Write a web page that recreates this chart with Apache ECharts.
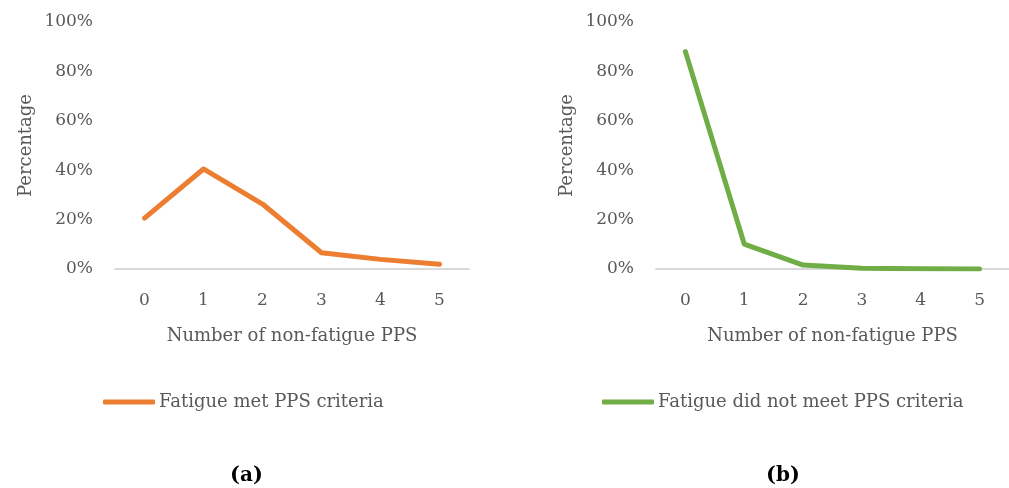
<!DOCTYPE html>
<html>
<head>
<meta charset="utf-8">
<style>
  html, body { margin: 0; padding: 0; background: #ffffff; }
  #chart { width: 1009px; height: 488px; }
</style>
<script src="https://cdn.jsdelivr.net/npm/echarts@6/dist/echarts.min.js"></script>
</head>
<body>
<div id="chart"></div>
<script>
// Number of non-fatigue PPS (x categories)
const categories = ['0', '1', '2', '3', '4', '5'];
// Percentage of participants, fatigue met PPS criteria
const fatigueMet = [20.6, 40.5, 26.3, 6.6, 3.9, 1.9];
// Percentage of participants, fatigue did not meet PPS criteria
const fatigueNotMet = [88.0, 10.1, 1.6, 0.3, 0.1, 0.0];
const seriesNames = ['Fatigue met PPS criteria', 'Fatigue did not meet PPS criteria'];
const panelLabels = ['a', 'b'];

const FONT = '"DejaVu Serif", "Liberation Serif", serif';
const TEXT = '#595959';
const AXIS = '#d9d9d9';
const FS = 18;      // axis names and legend
const FS_TICK = 17; // tick labels

function xAxis(gridIndex) {
  return {
    type: 'category', gridIndex, data: categories, boundaryGap: true,
    name: 'Number of non-fatigue PPS', nameLocation: 'middle', nameGap: 58,
    nameTextStyle: { color: TEXT, fontFamily: FONT, fontSize: FS },
    axisLine: { lineStyle: { color: AXIS, width: 2 } },
    axisTick: { show: false },
    axisLabel: { color: TEXT, fontFamily: FONT, fontSize: FS_TICK, margin: 23 },
    splitLine: { show: false }
  };
}
function yAxis(gridIndex) {
  return {
    type: 'value', gridIndex, min: 0, max: 100, interval: 20,
    name: 'Percentage', nameLocation: 'middle', nameGap: 80,
    nameTextStyle: { color: TEXT, fontFamily: FONT, fontSize: FS },
    axisLine: { show: false }, axisTick: { show: false },
    axisLabel: { color: TEXT, fontFamily: FONT, fontSize: FS_TICK, margin: 22, formatter: '{value}%' },
    splitLine: { show: false }
  };
}
function panelTitle(letter, left) {
  return {
    text: '{p|(}{b|' + letter + '}{p|)}', left, top: 460,
    textStyle: {
      rich: {
        p: { fontFamily: FONT, fontSize: 21, color: '#000' },
        b: { fontFamily: FONT, fontSize: 20, fontWeight: 'bold', color: '#000' }
      }
    }
  };
}
function legend(name, left) {
  return {
    data: [name], left, top: 393, icon: 'roundRect', itemWidth: 52, itemHeight: 5,
    itemGap: 0, padding: 0,
    textStyle: { color: TEXT, fontFamily: FONT, fontSize: FS, padding: [0, 0, 0, -1] }
  };
}

const chart = echarts.init(document.getElementById('chart'), null, { renderer: 'canvas' });
chart.setOption({
  backgroundColor: '#ffffff',
  animation: false,
  title: [panelTitle(panelLabels[0], 225), panelTitle(panelLabels[1], 761)],
  legend: [legend(seriesNames[0], 103), legend(seriesNames[1], 602)],
  grid: [
    { left: 115, right: 540, top: 22, bottom: 219 },
    { left: 656, right: -1, top: 22, bottom: 219 }
  ],
  xAxis: [xAxis(0), xAxis(1)],
  yAxis: [yAxis(0), yAxis(1)],
  series: [
    {
      name: seriesNames[0], type: 'line', xAxisIndex: 0, yAxisIndex: 0, data: fatigueMet,
      showSymbol: false, color: '#ed7d31',
      lineStyle: { width: 5, cap: 'round', join: 'round' }
    },
    {
      name: seriesNames[1], type: 'line', xAxisIndex: 1, yAxisIndex: 1, data: fatigueNotMet,
      showSymbol: false, color: '#70ad47',
      lineStyle: { width: 5, cap: 'round', join: 'round' }
    }
  ]
});
</script>
</body>
</html>
